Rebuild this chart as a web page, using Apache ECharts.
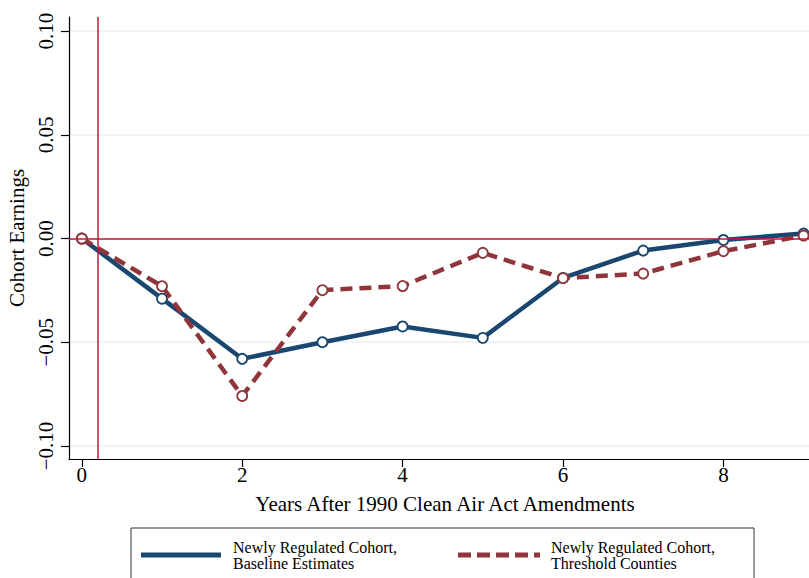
<!DOCTYPE html>
<html>
<head>
<meta charset="utf-8">
<script src="https://cdn.jsdelivr.net/npm/echarts@6/dist/echarts.min.js"></script>
<style>
html,body{margin:0;padding:0;background:#fff;}
#chart{width:809px;height:578px;}
</style>
</head>
<body>
<div id="chart"></div>
<script>
// ---- data ----
const years = [0, 1, 2, 3, 4, 5, 6, 7, 8, 9];
const baseline = [0, -0.029, -0.058, -0.050, -0.0424, -0.0479, -0.019, -0.0058, -0.0007, 0.0024];
const threshold = [0, -0.023, -0.0759, -0.0249, -0.0229, -0.0069, -0.0191, -0.0169, -0.0061, 0.0014];
const yTicks = [-0.10, -0.05, 0.00, 0.05, 0.10];
const xTicks = [0, 2, 4, 6, 8];
const refYear = 0.2;
const refValue = 0;
const legendLines = [
  ['Newly Regulated Cohort,', 'Baseline Estimates'],
  ['Newly Regulated Cohort,', 'Threshold Counties']
];
const xTitle = 'Years After 1990 Clean Air Act Amendments';
const yTitle = 'Cohort Earnings';

const BLUE = '#1a476f';
const MAROON = '#90353b';
const RED = '#d0103a';
const FONT = '"Liberation Serif", "DejaVu Serif", serif';

const chart = echarts.init(document.getElementById('chart'), null, {renderer: 'svg'});

function fmtY(v) {
  const s = Math.abs(v).toFixed(2);
  return (v < -1e-9 ? '\u2212' : '') + s;
}

function legendText(x, y, t) {
  return {type: 'text', x: x, y: y,
    style: {text: t, fontFamily: FONT, fontSize: 16, fill: '#000', textVerticalAlign: 'middle'}};
}

const option = {
  animation: false,
  backgroundColor: '#fff',
  grid: {left: 69, top: 17, right: -12, bottom: 119, containLabel: false, outerBoundsMode: 'none'},
  xAxis: {
    type: 'value',
    min: -0.16,
    max: 9.217,
    name: xTitle,
    nameLocation: 'middle',
    nameGap: 34,
    nameTextStyle: {fontFamily: FONT, fontSize: 21, color: '#000'},
    axisLine: {show: true, onZero: false, lineStyle: {color: '#000', width: 1.2}},
    axisTick: {show: true, length: 8, customValues: xTicks, lineStyle: {color: '#000', width: 1.2}},
    axisLabel: {customValues: xTicks, margin: 5, fontFamily: FONT, fontSize: 21, color: '#000'},
    splitLine: {show: false}
  },
  yAxis: {
    type: 'value',
    min: -0.1063,
    max: 0.1068,
    name: yTitle,
    nameLocation: 'middle',
    nameRotate: 90,
    nameGap: 42,
    nameTextStyle: {fontFamily: FONT, fontSize: 21, color: '#000'},
    axisLine: {show: true, onZero: false, lineStyle: {color: '#000', width: 1.2}},
    axisTick: {show: true, length: 8, customValues: yTicks, lineStyle: {color: '#000', width: 1.2}},
    axisLabel: {customValues: yTicks, rotate: 90, margin: 13, fontFamily: FONT, fontSize: 21, color: '#000', formatter: fmtY},
    splitLine: {show: true, lineStyle: {color: '#eaf2f3', width: 1.5}}
  },
  series: [
    {
      type: 'line',
      name: 'ref',
      data: [],
      z: 1,
      markLine: {
        silent: true,
        symbol: ['none', 'none'],
        label: {show: false},
        lineStyle: {color: RED, width: 1.5, type: 'solid'},
        data: [{xAxis: refYear}, {yAxis: refValue}]
      }
    },
    {
      type: 'line',
      name: legendLines[0].join(' '),
      data: years.map((x, i) => [x, baseline[i]]),
      z: 3,
      symbol: 'circle',
      symbolSize: 10,
      itemStyle: {color: '#fff', borderColor: BLUE, borderWidth: 1.8},
      lineStyle: {color: BLUE, width: 4.5},
      clip: false
    },
    {
      type: 'line',
      name: legendLines[1].join(' '),
      data: years.map((x, i) => [x, threshold[i]]),
      z: 4,
      symbol: 'circle',
      symbolSize: 10,
      itemStyle: {color: '#fff', borderColor: MAROON, borderWidth: 1.8},
      lineStyle: {color: MAROON, width: 4.5, type: [12, 7]},
      clip: false
    }
  ],
  graphic: [
    {type: 'rect', shape: {x: 131, y: 528, width: 623, height: 70},
     style: {fill: '#fff', stroke: '#333', lineWidth: 1}},
    {type: 'line', shape: {x1: 141, y1: 555, x2: 221, y2: 555},
     style: {stroke: BLUE, lineWidth: 5}},
    {type: 'line', shape: {x1: 458, y1: 555, x2: 540, y2: 555},
     style: {stroke: MAROON, lineWidth: 5, lineDash: [13, 6]}},
    legendText(233, 547, legendLines[0][0]),
    legendText(233, 563, legendLines[0][1]),
    legendText(551, 547, legendLines[1][0]),
    legendText(551, 563, legendLines[1][1])
  ]
};
chart.setOption(option);
</script>
</body>
</html>
